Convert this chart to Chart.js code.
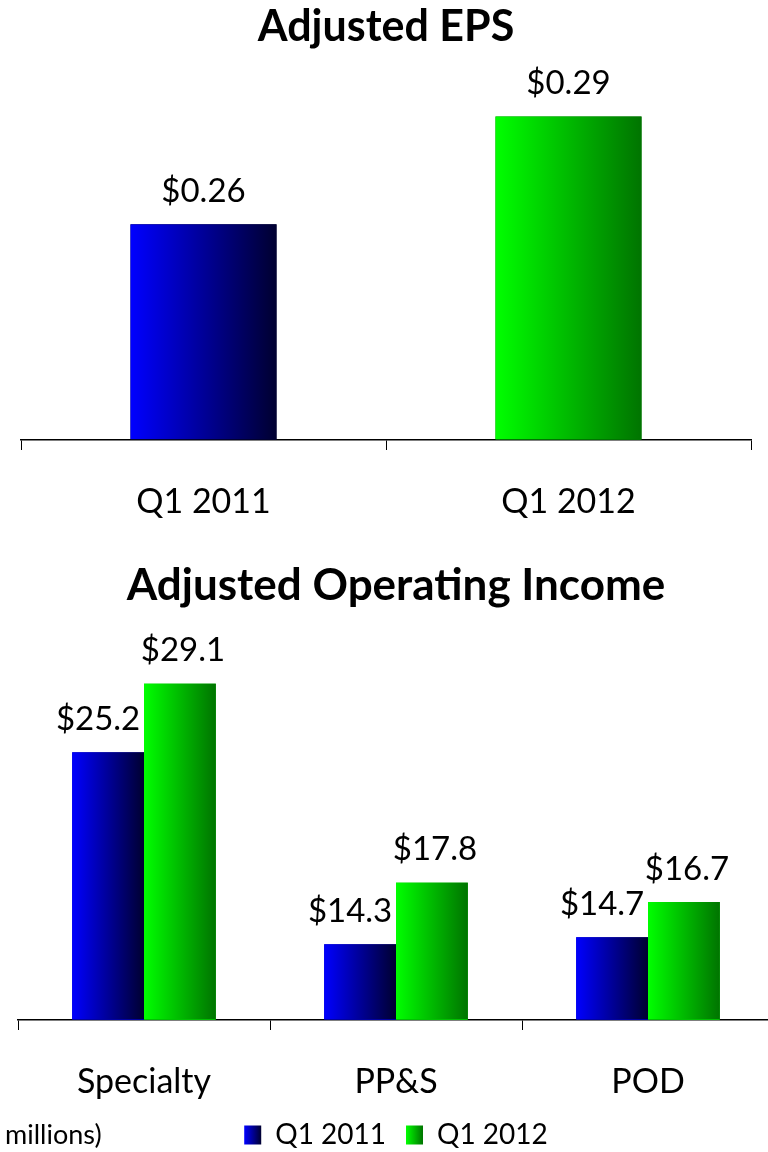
<!DOCTYPE html>
<html>
<head>
<meta charset="utf-8">
<script src="https://cdn.jsdelivr.net/npm/chart.js@4/dist/chart.umd.min.js"></script>
<style>
  html, body { margin: 0; padding: 0; background: #fff; overflow: hidden; width: 768px; height: 1152px; position: relative; }
  #epsBox { position: absolute; left: 0; top: 0; }
  #oiBox { position: absolute; left: 0; top: 540px; }
  #note { position: absolute; left: 5px; top: 1117px; font: 27px Lato, sans-serif; color: #000; }
</style>
</head>
<body>
<div id="epsBox"><canvas id="epsChart" width="780" height="540"></canvas></div>
<div id="oiBox"><canvas id="oiChart" width="790" height="630"></canvas></div>
<div id="note">millions)</div>
<script>
// values
const epsLabels = ['Q1 2011', 'Q1 2012'];
const epsValues = [0.26, 0.29];

const oiLabels = ['Specialty', 'PP&S', 'POD'];
const oi2011 = [25.2, 14.3, 14.7];
const oi2012 = [29.1, 17.8, 16.7];
const seriesNames = ['Q1 2011', 'Q1 2012'];

const FONT = 'Lato, "Open Sans", sans-serif';
const BLUE = ['#0000ff', '#000030'];
const GREEN = ['#00ff00', '#007400'];

const pick = (v, j) => Array.isArray(v) ? v[j] : v;

// repaint bars with the left-to-right gradient and put value labels on top
const barDecor = {
  id: 'barDecor',
  beforeDraw(chart) {
    // legend swatches get the same gradient as the bars
    const lg = chart.legend;
    if (!lg || !lg.options.display || !lg.legendItems) return;
    lg.legendItems.forEach((item, i) => {
      const hb = lg.legendHitBoxes[i];
      const ds = chart.data.datasets[item.datasetIndex];
      const w = lg.options.labels.boxWidth;
      const g = chart.ctx.createLinearGradient(hb.left, 0, hb.left + w, 0);
      g.addColorStop(0, pick(ds.gradFrom, 0));
      g.addColorStop(1, pick(ds.gradTo, 0));
      item.fillStyle = g;
    });
  },
  afterDatasetsDraw(chart, args, opts) {
    const ctx = chart.ctx;
    const bottom = chart.chartArea.bottom;
    ctx.save();
    chart.data.datasets.forEach((ds, i) => {
      const meta = chart.getDatasetMeta(i);
      meta.data.forEach((bar, j) => {
        const p = bar.getProps(['x', 'y', 'base', 'width'], true);
        const left = p.x - p.width / 2;
        const base = Math.min(p.base, bottom - 1);
        const g = ctx.createLinearGradient(left, 0, left + p.width, 0);
        g.addColorStop(0, pick(ds.gradFrom, j));
        g.addColorStop(1, pick(ds.gradTo, j));
        ctx.fillStyle = g;
        ctx.fillRect(left, p.y, p.width, base - p.y);

        ctx.fillStyle = '#000';
        ctx.font = opts.size + 'px ' + FONT;
        ctx.textAlign = 'center';
        ctx.textBaseline = 'middle';
        ctx.fillText(opts.format(ds.data[j]), p.x + (ds.labelDx || 0), p.y - 33);
      });
    });
    ctx.restore();
  }
};

function xAxis(h) {
  return {
    offset: true,
    grid: { offset: true, drawOnChartArea: false, drawTicks: true, tickLength: 10, color: '#000', lineWidth: 1 },
    border: { color: '#000', width: 1.5 },
    ticks: { color: '#000', font: { family: FONT, size: 34 }, padding: 32 },
    afterFit: scale => { scale.height = h; }
  };
}

new Chart(document.getElementById('epsChart'), {
  type: 'bar',
  data: {
    labels: epsLabels,
    datasets: [{
      label: 'Adjusted EPS',
      data: epsValues,
      backgroundColor: [BLUE[1], GREEN[1]],
      gradFrom: [BLUE[0], GREEN[0]],
      gradTo: [BLUE[1], GREEN[1]],
      barPercentage: 0.4,
      categoryPercentage: 1
    }]
  },
  options: {
    responsive: false,
    animation: false,
    layout: { padding: { left: 21, right: 29, top: 0, bottom: 0 } },
    plugins: {
      legend: { display: false },
      tooltip: { enabled: false },
      title: {
        display: true,
        text: 'Adjusted EPS',
        color: '#000',
        font: { family: FONT, size: 43, weight: 'bold' },
        padding: { top: 1, bottom: 28 }
      },
      barDecor: { size: 33, format: v => '$' + v.toFixed(2) }
    },
    scales: {
      y: { display: false, min: 0.2, max: 0.3 },
      x: xAxis(100)
    }
  },
  plugins: [barDecor]
});

new Chart(document.getElementById('oiChart'), {
  type: 'bar',
  data: {
    labels: oiLabels,
    datasets: [
      { label: seriesNames[0], data: oi2011, backgroundColor: '#0000a0', gradFrom: BLUE[0], gradTo: BLUE[1], labelDx: -10 },
      { label: seriesNames[1], data: oi2012, backgroundColor: '#00c000', gradFrom: GREEN[0], gradTo: GREEN[1], labelDx: 3 }
    ]
  },
  options: {
    responsive: false,
    animation: false,
    datasets: { bar: { barPercentage: 1, categoryPercentage: 0.57 } },
    layout: { padding: { left: 18, right: 16, top: 0, bottom: 11 } },
    plugins: {
      tooltip: { enabled: false },
      title: {
        display: true,
        text: 'Adjusted Operating Income',
        color: '#000',
        font: { family: FONT, size: 44, weight: 'bold' },
        padding: { top: 19, bottom: 56 }
      },
      legend: {
        position: 'bottom',
        labels: {
          color: '#000',
          font: { family: FONT, size: 28 },
          boxWidth: 17,
          boxHeight: 19,
          padding: 20,
          generateLabels: chart => chart.data.datasets.map((ds, i) => ({
            text: ds.label,
            fillStyle: ds.backgroundColor,
            strokeStyle: ds.backgroundColor,
            lineWidth: 0,
            datasetIndex: i
          }))
        }
      },
      barDecor: { size: 33, format: v => '$' + v.toFixed(1) }
    },
    scales: {
      y: { display: false, min: 10, max: 30 },
      x: xAxis(81)
    }
  },
  plugins: [barDecor]
});
</script>
</body>
</html>
